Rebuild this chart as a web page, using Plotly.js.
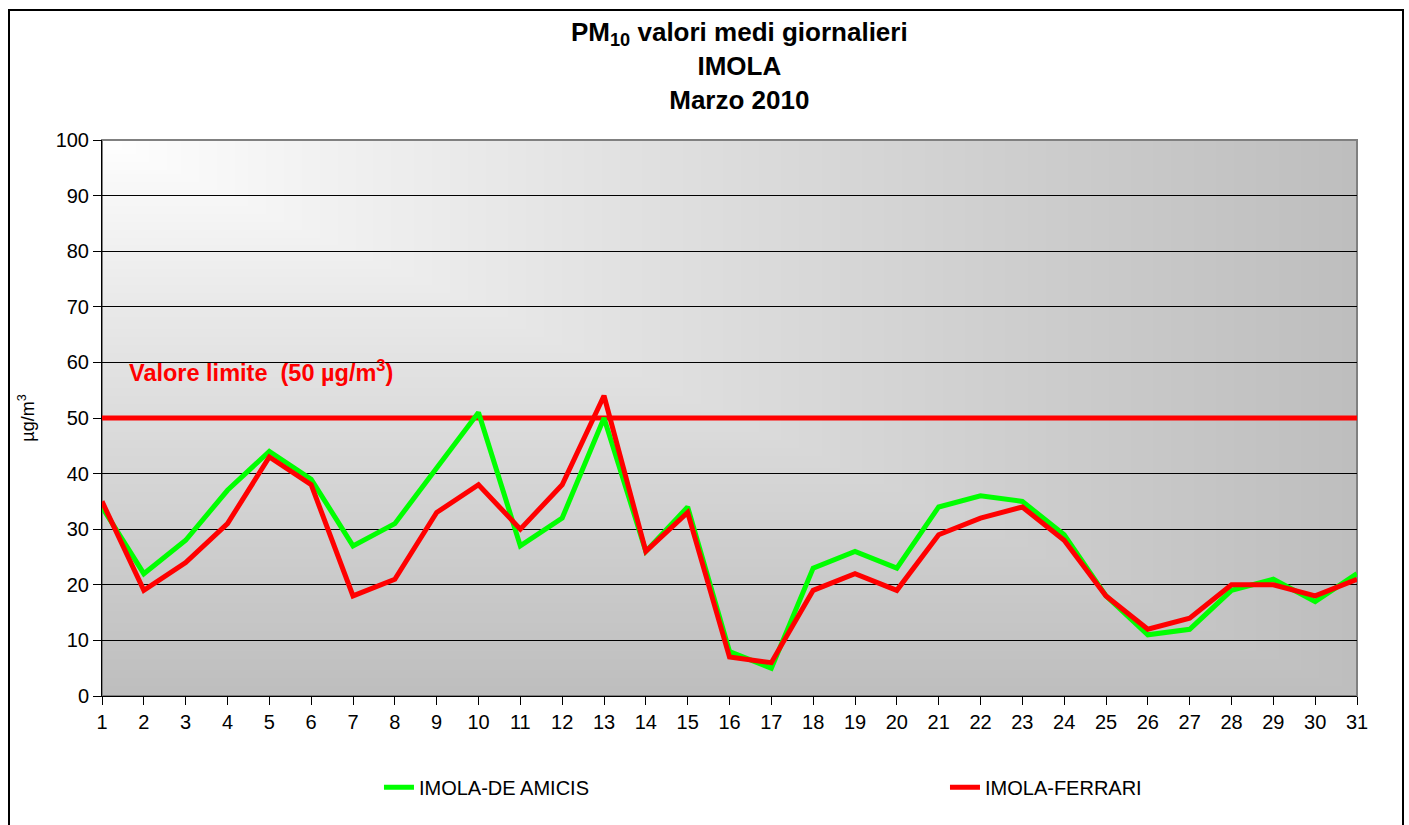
<!DOCTYPE html>
<html><head><meta charset="utf-8">
<script src="https://cdn.plot.ly/plotly-3.0.1.min.js"></script>
<style>
body{margin:0;background:#fff;overflow:hidden}
#frame{position:absolute;left:8px;top:9px;width:1392px;height:830px;border:2px solid #000;pointer-events:none}
</style>
</head><body>
<div id="chart" style="width:1409px;height:825px"></div>
<div id="frame"></div>
<script>
const days = [1,2,3,4,5,6,7,8,9,10,11,12,13,14,15,16,17,18,19,20,21,22,23,24,25,26,27,28,29,30,31];
const deAmicis = [34,22,28,37,44,39,27,31,41,51,27,32,50,26,34,8,5,23,26,23,34,36,35,29,18,11,12,19,21,17,22];
const ferrari = [35,19,24,31,43,38,18,21,33,38,30,38,54,26,33,7,6,19,22,19,29,32,34,28,18,12,14,20,20,18,21];
const LIMIT = 50;
const seriesNames = ['IMOLA-DE AMICIS','IMOLA-FERRARI'];
const yTicks = [0,10,20,30,40,50,60,70,80,90,100];
const titleLines = ['PM<sub>10</sub> valori medi giornalieri','IMOLA','Marzo 2010'];

function gradient(){
  const W=280,H=140;
  const c=document.createElement('canvas'); c.width=W; c.height=H;
  const ctx=c.getContext('2d'); const img=ctx.createImageData(W,H);
  for(let y=0;y<H;y++){for(let x=0;x<W;x++){
    const t=Math.min(1,Math.max(x/(W-1),y/(H-1)));
    const v=Math.round(255-(255-190)*Math.pow(t,0.9));
    const i=(y*W+x)*4; img.data[i]=v;img.data[i+1]=v;img.data[i+2]=v;img.data[i+3]=255;
  }}
  ctx.putImageData(img,0,0); return c.toDataURL('image/png');
}

const font='"Liberation Sans", Arial, sans-serif';
const traces=[
  {x:[days[0],days[days.length-1]],y:[LIMIT,LIMIT],mode:'lines',line:{color:'#ff0000',width:5},showlegend:false,hoverinfo:'skip'},
  {x:days,y:deAmicis,name:seriesNames[0],mode:'lines',line:{color:'#00ff00',width:5},legend:'legend'},
  {x:days,y:ferrari,name:seriesNames[1],mode:'lines',line:{color:'#ff0000',width:5},legend:'legend2'}
];
const legFont={size:20,family:font,color:'#000'};
const layout={
  width:1409,height:825,
  margin:{l:102,r:52,t:140,b:129},
  paper_bgcolor:'#ffffff',plot_bgcolor:'rgba(0,0,0,0)',
  font:{family:font,color:'#000'},
  xaxis:{range:[1,31],tickvals:days,ticktext:days.map(String),showgrid:false,zeroline:false,
    showline:true,linecolor:'#000',linewidth:1,ticks:'outside',ticklen:8,tickcolor:'#000',
    tickfont:{size:20,family:font},fixedrange:true},
  yaxis:{range:[0,100],tickvals:yTicks,showgrid:true,gridcolor:'#000',gridwidth:1,zeroline:false,
    showline:true,linecolor:'#000',linewidth:1,ticks:'outside',ticklen:8,tickcolor:'#000',
    tickfont:{size:20,family:font},
    title:{text:'µg/m<sup>3</sup>',font:{size:18,family:font},standoff:16}},
  showlegend:true,
  legend:{orientation:'h',x:0.2207,xanchor:'left',y:-0.164,yanchor:'middle',font:legFont,bgcolor:'rgba(0,0,0,0)'},
  legend2:{orientation:'h',x:0.6717,xanchor:'left',y:-0.164,yanchor:'middle',font:legFont,bgcolor:'rgba(0,0,0,0)'},
  images:[{source:gradient(),xref:'paper',yref:'paper',x:0,y:1,sizex:1,sizey:1,
    sizing:'stretch',layer:'below',xanchor:'left',yanchor:'top'}],
  shapes:[{type:'rect',xref:'paper',yref:'paper',x0:0,x1:1,y0:0,y1:1,line:{color:'#808080',width:2},layer:'below'}],
  annotations:[
    {text:'<b>'+titleLines.join('<br>')+'</b>',xref:'paper',yref:'paper',x:0.508,y:1.225,
      xanchor:'center',yanchor:'top',showarrow:false,font:{size:26,family:font,color:'#000'}},
    {text:'<b>Valore limite  (50 µg/m<sup>3</sup>)</b>',xref:'paper',yref:'y',x:0.02,y:58.5,
    xanchor:'left',yanchor:'middle',showarrow:false,font:{size:23.5,color:'#ff0000',family:font}}]
};
Plotly.newPlot('chart',traces,layout,{displayModeBar:false,staticPlot:true});
</script>
</body></html>
